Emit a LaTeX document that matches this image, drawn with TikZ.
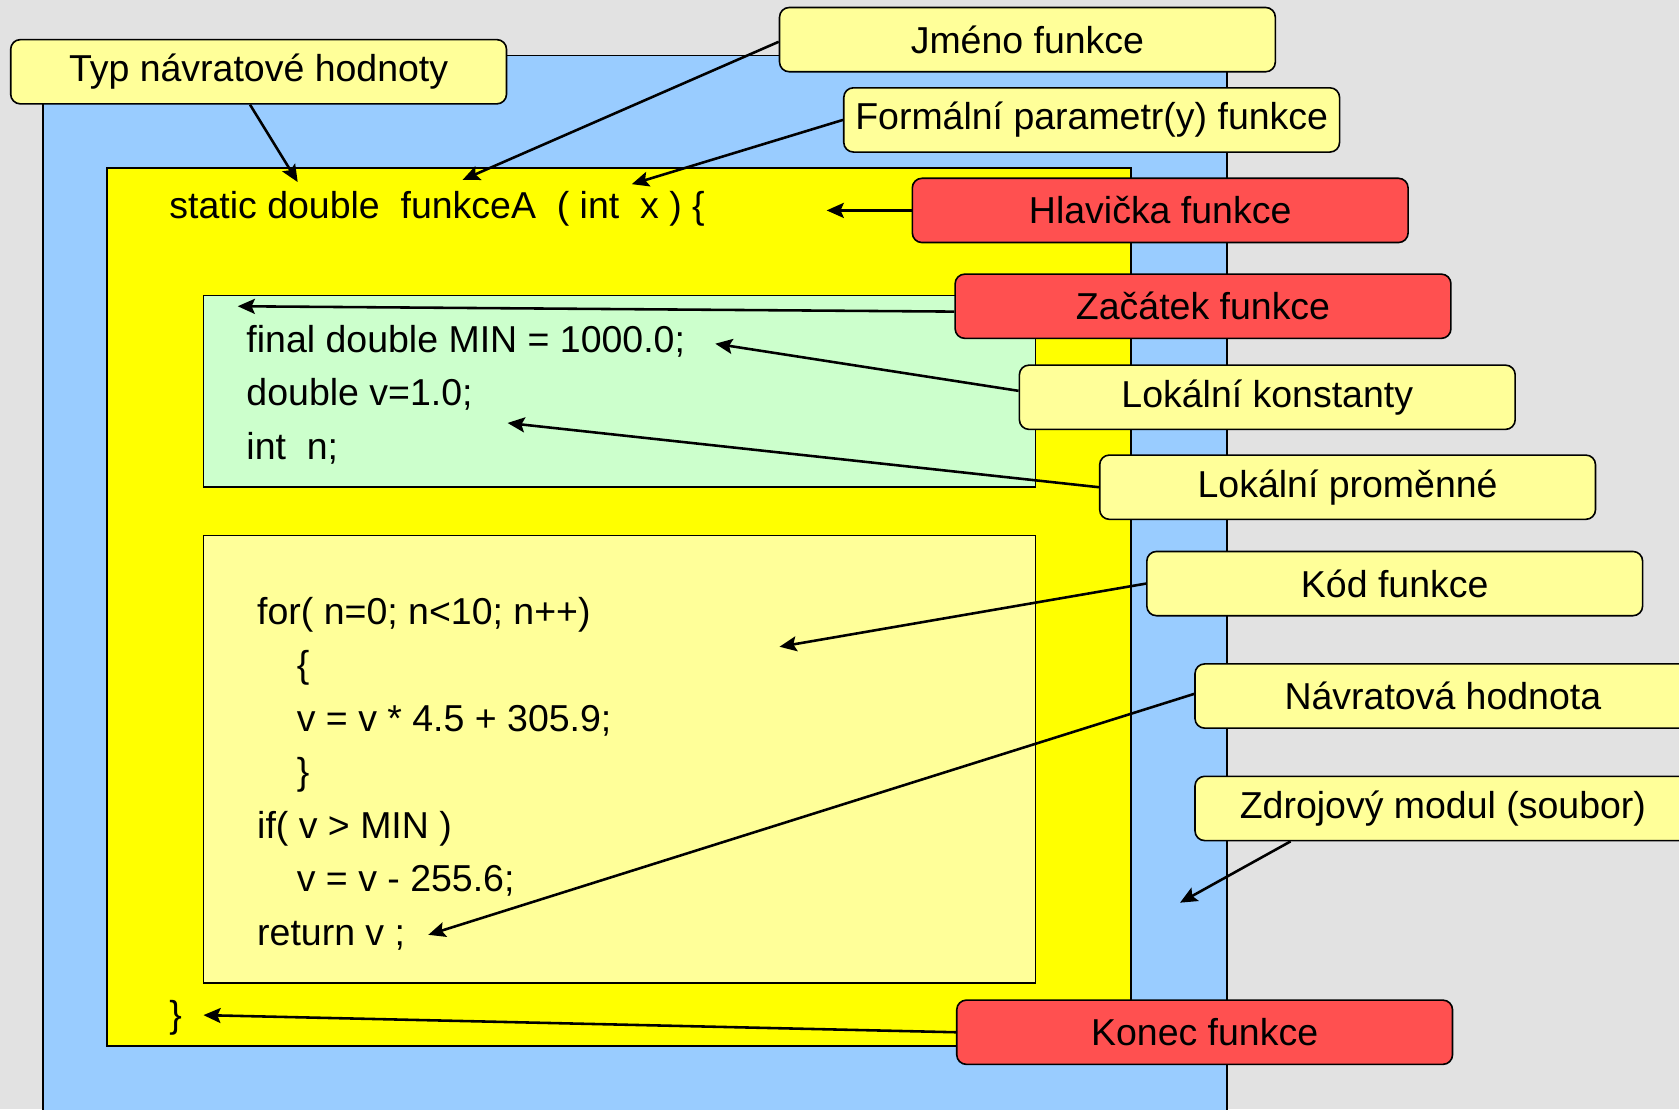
\documentclass[tikz,border=0pt]{standalone}
\usepackage{fontspec}
\setmainfont{Liberation Sans}
\usepackage{tikz}
\usetikzlibrary{calc,shapes,arrows.meta}

\definecolor{granite}{RGB}{226,226,226}
\definecolor{modblue}{RGB}{153,204,255}
\definecolor{bodyyellow}{RGB}{255,255,0}
\definecolor{declgreen}{RGB}{204,255,204}
\definecolor{codeyellow}{RGB}{255,255,153}
\definecolor{alertred}{RGB}{255,80,80}

\tikzset{
  region/.style={rectangle, draw, line width=1.5pt, inner sep=0pt},
  codeline/.style={anchor=base west, inner sep=0pt},
  callout/.style={rectangle, draw, line width=1.5pt, rounded corners=9pt, fill=codeyellow,
    minimum width=463pt, minimum height=60pt, inner sep=0pt},
  alert/.style={callout, fill=alertred},
  pointer/.style={draw, -{Stealth[length=16pt,width=14pt,inset=3pt]}, line width=2.4pt}
}

\begin{document}
\begin{tikzpicture}[x=1pt, y=-1pt, font=\fontsize{35}{42}\selectfont]
    \clip (0,0) rectangle (1568,1036);
    \fill [granite] (0,0) rectangle (1568,1036);
    % Nested blocks
    \node [region, fill=modblue, minimum width=1106pt, minimum height=1000pt] (module) at (593,552) {};
    \node [region, fill=bodyyellow, minimum width=956pt, minimum height=820pt] (fbody) at (578,567) {};
    \node [region, fill=declgreen, minimum width=777pt, minimum height=179pt] (decls) at (578.5,365.5) {};
    \node [region, fill=codeyellow, minimum width=777pt, minimum height=418pt] (code) at (578.5,709) {};
    % Source lines
    \node [codeline] (head) at (158,204) {static double~~funkceA~~( int~~x ) \{};
    \node [codeline] (cmin) at (230,329) {final double MIN = 1000.0;};
    \node [codeline] (vdecl) at (230,379) {double v=1.0;};
    \node [codeline] (ndecl) at (230,429) {int~~n;};
    \node [codeline] (forl) at (240,583) {for( n=0; n<10; n++)};
    \node [codeline] (lbrace) at (277,633) {\{};
    \node [codeline] (calc) at (277,683) {v = v * 4.5 + 305.9;};
    \node [codeline] (rbrace) at (277,733) {\}};
    \node [codeline] (ifl) at (240,783) {if( v > MIN )};
    \node [codeline] (subl) at (277,833) {v = v - 255.6;};
    \node [codeline] (ret) at (240,883) {return v ;};
    \node [codeline] (fend) at (158,960) {\}};
    % Callouts
    \node [callout] (typ) at (241.5,67) {Typ návratové hodnoty};
    \node [callout] (jmeno) at (959.5,37) {Jméno funkce};
    \node [callout] (param) at (1019.5,112) {Formální parametr(y) funkce};
    \node [alert] (hlava) at (1083.5,196.5) {Hlavička funkce};
    \node [alert] (zacatek) at (1123.5,286) {Začátek funkce};
    \node [callout] (konst) at (1183.5,371) {Lokální konstanty};
    \node [callout] (promenne) at (1258.5,455) {Lokální proměnné};
    \node [callout] (kod) at (1302.5,545) {Kód funkce};
    \node [callout] (navrat) at (1347.5,650) {Návratová hodnota};
    \node [callout] (zdroj) at (1347.5,755) {Zdrojový modul (soubor)};
    \node [alert] (konec) at (1125,964) {Konec funkce};
    % Arrow targets
    \coordinate (tTyp) at (278,170);
    \coordinate (tJmeno) at (432,168);
    \coordinate (tParam) at (590,172);
    \coordinate (tHlava) at (772,196.5);
    \coordinate (tZacatek) at (222,286);
    \coordinate (tKonst) at (668,321);
    \coordinate (tProm) at (474,395);
    \coordinate (tKod) at (728,604);
    \coordinate (tNavrat) at (400,873);
    \coordinate (tZdroj) at (1102,843);
    \coordinate (tKonec) at (190,948);
    % Arrows
    \path [pointer] ([xshift=-8pt]typ.south) -- (tTyp);
    \path [pointer] ([yshift=-2pt]jmeno.west) -- (tJmeno);
    \path [pointer] (param.west) -- (tParam);
    \path [pointer] (hlava.west) -- (tHlava);
    \path [pointer] ([yshift=-5pt]zacatek.west) -- (tZacatek);
    \path [pointer] ([yshift=6pt]konst.west) -- (tKonst);
    \path [pointer] (promenne.west) -- (tProm);
    \path [pointer] (kod.west) -- (tKod);
    \path [pointer] ([yshift=2pt]navrat.west) -- (tNavrat);
    \path [pointer] ([xshift=90pt]zdroj.south west) -- (tZdroj);
    \path [pointer] (konec.west) -- (tKonec);
\end{tikzpicture}
\end{document}
